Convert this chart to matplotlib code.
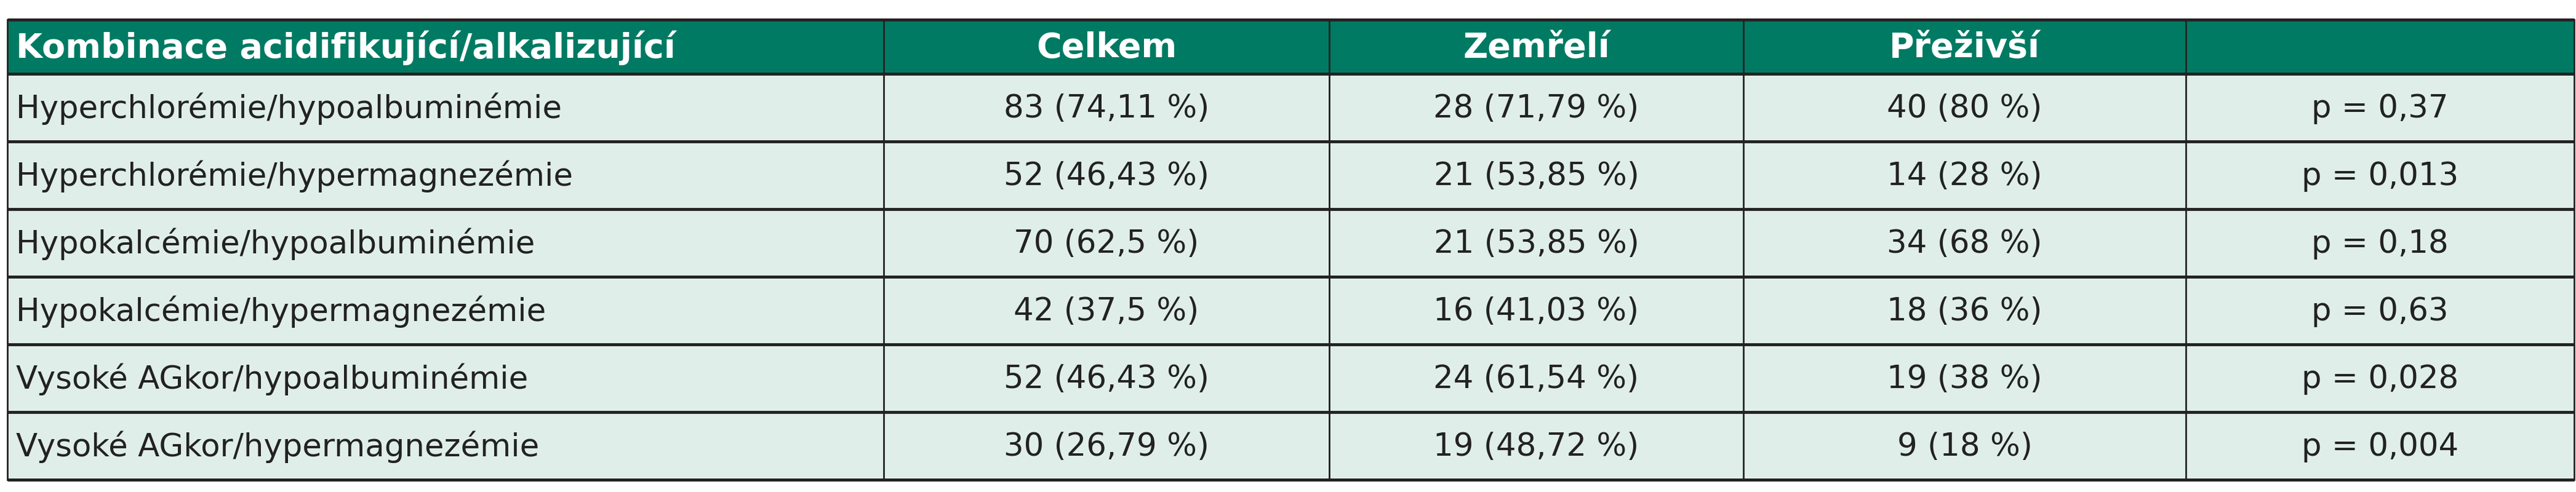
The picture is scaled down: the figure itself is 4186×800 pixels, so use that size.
import matplotlib.pyplot as plt
from matplotlib.patches import Rectangle

header = ['Kombinace acidifikující/alkalizující', 'Celkem', 'Zemřelí', 'Přeživší', '']
labels = ['Hyperchlorémie/hypoalbuminémie', 'Hyperchlorémie/hypermagnezémie',
          'Hypokalcémie/hypoalbuminémie', 'Hypokalcémie/hypermagnezémie',
          'Vysoké AGkor/hypoalbuminémie', 'Vysoké AGkor/hypermagnezémie']
celkem = ['83 (74,11 %)', '52 (46,43 %)', '70 (62,5 %)', '42 (37,5 %)', '52 (46,43 %)', '30 (26,79 %)']
zemreli = ['28 (71,79 %)', '21 (53,85 %)', '21 (53,85 %)', '16 (41,03 %)', '24 (61,54 %)', '19 (48,72 %)']
prezivsi = ['40 (80 %)', '14 (28 %)', '34 (68 %)', '18 (36 %)', '19 (38 %)', '9 (18 %)']
pvals = ['p = 0,37', 'p = 0,013', 'p = 0,18', 'p = 0,63', 'p = 0,028', 'p = 0,004']

W, H = 4186, 800
cols = [12, 1436, 2160, 2833, 3552, 4183]
top, head_h, rowh = 32, 88, 110
fam = ['DejaVu Sans']

fig = plt.figure(figsize=(W / 100, H / 100), dpi=100)
ax = fig.add_axes([0, 0, 1, 1])
ax.set_xlim(0, W)
ax.set_ylim(H, 0)
ax.axis('off')

rows = [header] + [list(r) for r in zip(labels, celkem, zemreli, prezivsi, pvals)]
edges = [top] + [top + head_h + i * rowh for i in range(len(rows))]
for i, row in enumerate(rows):
    y0, y1 = edges[i], edges[i + 1]
    ax.add_patch(Rectangle((cols[0], y0), cols[-1] - cols[0], y1 - y0,
                           facecolor='#007a63' if i == 0 else '#e0eeea', edgecolor='none'))
    for j, txt in enumerate(row):
        if j == 0:
            x, ha = cols[0] + 14, 'left'
        else:
            x, ha = (cols[j] + cols[j + 1]) / 2, 'center'
        ax.text(x, (y0 + y1) / 2 + 2, txt, ha=ha, va='center', family=fam,
                fontsize=40 if i == 0 else 37,
                color='white' if i == 0 else '#222222',
                weight='bold' if i == 0 else 'normal')

for y in edges:
    ax.plot([cols[0], cols[-1]], [y, y], color='#222222', lw=3.5, solid_capstyle='butt')
for x in cols:
    ax.plot([x, x], [edges[0], edges[-1]], color='#222222', lw=2)

fig.savefig('out.png', dpi=100)
